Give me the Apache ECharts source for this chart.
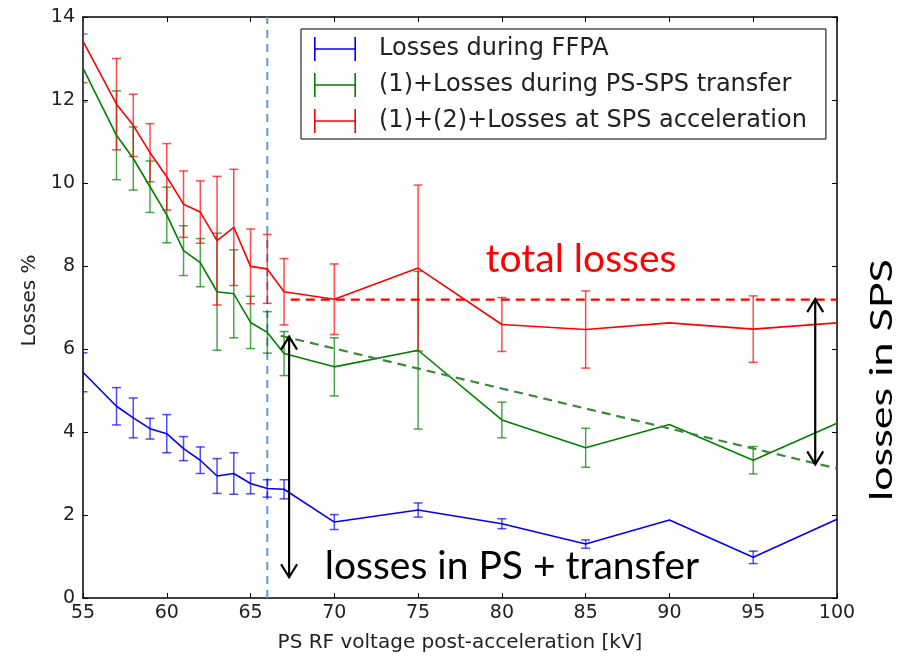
<!DOCTYPE html>
<html>
<head>
<meta charset="utf-8">
<script src="https://cdn.jsdelivr.net/npm/echarts@6/dist/echarts.min.js"></script>
<style>html,body{margin:0;padding:0;background:#fff}#c{width:904px;height:658px}</style>
</head>
<body>
<div id="c"></div>
<script>
// ---- data ----
var voltages = [55,57,58,59,60,61,62,63,64,65,66,67,70,75,80,85,90,95,100];
var ffpa     = [5.44,4.62,4.34,4.08,3.96,3.60,3.32,2.94,3.00,2.76,2.64,2.62,1.83,2.12,1.79,1.30,1.88,0.98,1.90];
var ffpaErr  = [0.47,0.45,0.48,0.25,0.46,0.29,0.32,0.42,0.50,0.25,0.21,0.23,0.18,0.17,0.12,0.10,0,0.15,0];
var transfer    = [12.77,11.15,10.59,9.91,9.23,8.37,8.08,7.38,7.33,6.64,6.40,5.89,5.57,5.97,4.29,3.62,4.18,3.32,4.21];
var transferErr = [0.82,1.07,0.76,0.62,0.67,0.60,0.58,1.41,1.06,0.63,0.50,0.53,0.70,1.90,0.43,0.47,0,0.33,0];
var total    = [13.42,11.90,11.39,10.73,10.15,9.49,9.30,8.61,8.93,7.99,7.93,7.38,7.20,7.95,6.59,6.47,6.63,6.48,6.63];
var totalErr = [1.00,1.10,0.75,0.70,0.80,0.80,0.75,1.55,1.40,0.90,0.83,0.80,0.85,2.00,0.65,0.93,0,0.80,0];
var seriesNames = ['Losses during FFPA','(1)+Losses during PS-SPS transfer','(1)+(2)+Losses at SPS acceleration'];
var xTicks = {min:55, max:100, step:5};
var yTicks = {min:0, max:14, step:2};
var markerVoltage = 66;
var totalLevel = [[67.4, 7.19],[100, 7.19]];
var transferTrend = [[66.8, 6.32],[100, 3.12]];
var arrows = [[67.3, 6.3, 0.5],[98.7, 7.2, 3.22]];
var labels = {total:'total losses', ps:'losses in PS + transfer', sps:'losses in SPS'};

// ---- build ----
var colors = ['#0000ff','#008000','#ff0000'];
function pairs(v){ return voltages.map(function(x,i){return [x, v[i]];}); }
function errs(v,e){ var out=[]; voltages.forEach(function(x,i){ if(e[i]>0) out.push([x, v[i]-e[i], v[i]+e[i]]); }); return out; }

function errSeries(data, color){
  return {
    type:'custom', data:data, clip:true, xAxisIndex:0, yAxisIndex:0, z:3,
    renderItem:function(params, api){
      var x=api.value(0), lo=api.value(1), hi=api.value(2);
      var a=api.coord([x,lo]), b=api.coord([x,hi]), hw=4.5;
      var st={stroke:color, lineWidth:1.5, opacity:0.7};
      return {type:'group', children:[
        {type:'line', shape:{x1:a[0],y1:a[1],x2:b[0],y2:b[1]}, style:st},
        {type:'line', shape:{x1:a[0]-hw,y1:a[1],x2:a[0]+hw,y2:a[1]}, style:st},
        {type:'line', shape:{x1:b[0]-hw,y1:b[1],x2:b[0]+hw,y2:b[1]}, style:st}
      ]};
    }
  };
}
function lineSeries(name, v, color){
  return {name:name, type:'line', data:pairs(v), symbol:'none', z:4,
    lineStyle:{color:color, width:1.6}, itemStyle:{color:color}, animation:false};
}
var icon = 'path://M0,0h1.6v24h-1.6z M0,11.2h42v1.6h-42z M40.4,0h1.6v24h-1.6z';

var axisCommon = {
  type:'value', splitLine:{show:false},
  axisLine:{show:true, onZero:false, lineStyle:{color:'#000', width:1.5}},
  axisTick:{show:true, inside:true, length:5, lineStyle:{color:'#000', width:1}}
};
function ax(extra){ return Object.assign({}, JSON.parse(JSON.stringify(axisCommon)), extra); }

var chart = echarts.init(document.getElementById('c'), null, {renderer:'canvas'});
chart.setOption({
  animation:false,
  backgroundColor:'#fff',
  textStyle:{fontFamily:'DejaVu Sans'},
  grid:{left:83, right:67, top:17, bottom:59, containLabel:false},
  xAxis:[
    ax({min:xTicks.min, max:xTicks.max, interval:xTicks.step, position:'bottom',
      name:'PS RF voltage post-acceleration [kV]', nameLocation:'middle', nameGap:35,
      nameTextStyle:{fontSize:20, color:'#222', fontFamily:'DejaVu Sans'},
      axisLabel:{fontSize:19, color:'#222', margin:6, fontFamily:'DejaVu Sans'}}),
    ax({min:xTicks.min, max:xTicks.max, interval:xTicks.step, position:'top', axisLabel:{show:false}})
  ],
  yAxis:[
    ax({min:yTicks.min, max:yTicks.max, interval:yTicks.step, position:'left',
      name:'Losses %', nameLocation:'middle', nameGap:42, nameRotate:90,
      nameTextStyle:{fontSize:20, color:'#222', fontFamily:'DejaVu Sans', padding:[0,0,0,14]},
      axisLabel:{fontSize:19, color:'#222', margin:8, fontFamily:'DejaVu Sans'}}),
    ax({min:yTicks.min, max:yTicks.max, interval:yTicks.step, position:'right', axisLabel:{show:false}})
  ],
  legend:{
    orient:'vertical', left:301, top:29,
    data:seriesNames.map(function(n){return {name:n, icon:icon};}),
    itemWidth:42, itemHeight:24, itemGap:12,
    padding:[8,19,6,13],
    backgroundColor:'#fff', borderColor:'#000', borderWidth:1, borderRadius:0,
    textStyle:{fontSize:24, color:'#222', fontFamily:'DejaVu Sans', padding:[0,0,0,18]},
    selectedMode:false
  },
  graphic:[
    {type:'text', x:581, y:259, z:10, style:{text:labels.total, fill:'#ff0000', font:'39px Lato', textAlign:'center', textVerticalAlign:'middle'}},
    {type:'text', x:512, y:566, z:10, style:{text:labels.ps, fill:'#000', font:'39px Lato', textAlign:'center', textVerticalAlign:'middle'}},
    {type:'text', x:882, y:380, rotation:Math.PI/2, scaleY:0.72, z:10, style:{text:labels.sps, fill:'#000', font:'43px Lato', textAlign:'center', textVerticalAlign:'middle'}}
  ],
  series:[
    errSeries(errs(ffpa,ffpaErr), colors[0]),
    errSeries(errs(transfer,transferErr), colors[1]),
    errSeries(errs(total,totalErr), colors[2]),
    lineSeries(seriesNames[0], ffpa, colors[0]),
    lineSeries(seriesNames[1], transfer, colors[1]),
    lineSeries(seriesNames[2], total, colors[2]),
    {type:'line', data:[[markerVoltage,yTicks.min],[markerVoltage,yTicks.max]], symbol:'none', z:2,
      lineStyle:{color:'#5b9bd5', width:2, type:[8,6]}},
    {type:'line', data:totalLevel, symbol:'none', z:5, lineStyle:{color:'#ff0000', width:2.2, type:[9,6]}},
    {type:'line', data:transferTrend, symbol:'none', z:5, lineStyle:{color:'#3a8a3a', width:2.2, type:[9,6]}},
    {type:'custom', data:arrows, z:6, clip:false,
      renderItem:function(params, api){
        var x=api.value(0);
        var a=api.coord([x,api.value(1)]), b=api.coord([x,api.value(2)]);
        var st={stroke:'#000', lineWidth:2.2, fill:null};
        var hw=8, hl=13;
        return {type:'group', children:[
          {type:'line', shape:{x1:a[0],y1:a[1],x2:b[0],y2:b[1]}, style:st},
          {type:'polyline', shape:{points:[[a[0]-hw,a[1]+hl],[a[0],a[1]],[a[0]+hw,a[1]+hl]]}, style:st},
          {type:'polyline', shape:{points:[[b[0]-hw,b[1]-hl],[b[0],b[1]],[b[0]+hw,b[1]-hl]]}, style:st}
        ]};
      }}
  ]
});
</script>
</body>
</html>
